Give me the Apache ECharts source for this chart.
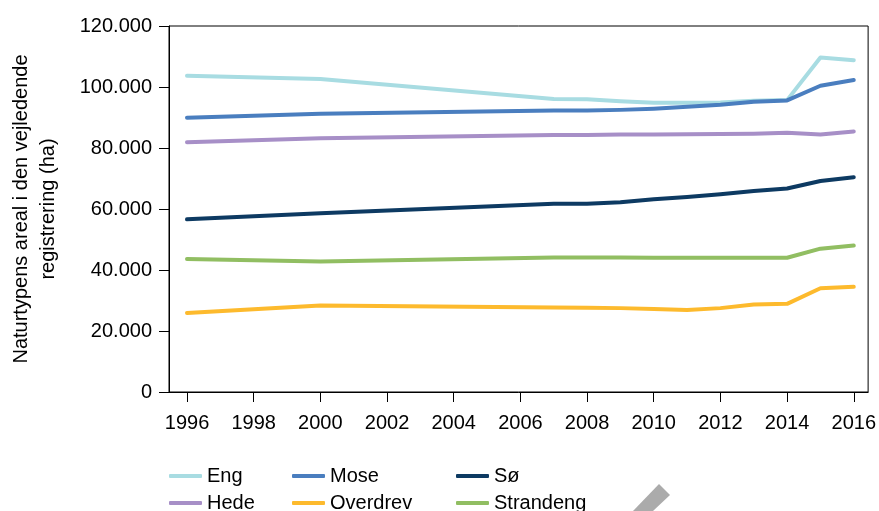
<!DOCTYPE html>
<html>
<head>
<meta charset="utf-8">
<script src="https://cdn.jsdelivr.net/npm/echarts@6/dist/echarts.min.js"></script>
<style>
  html, body { margin: 0; padding: 0; background: #fff; }
  #chart { width: 879px; height: 511px; }
</style>
</head>
<body>
<div id="chart"></div>
<script>
const years = [1996, 2000, 2007, 2008, 2009, 2010, 2011, 2012, 2013, 2014, 2015, 2016];
const tickYears = [1996, 1998, 2000, 2002, 2004, 2006, 2008, 2010, 2012, 2014, 2016];

const eng = [103700, 102600, 96100, 96000, 95300, 94800, 94800, 94900, 95500, 95700, 109700, 108800];
const mose = [89900, 91200, 92300, 92300, 92500, 92900, 93500, 94200, 95200, 95600, 100400, 102300];
const hede = [81900, 83200, 84300, 84300, 84400, 84400, 84500, 84600, 84700, 85000, 84400, 85400];
const so = [56600, 58600, 61700, 61700, 62200, 63200, 63900, 64800, 65900, 66700, 69200, 70400];
const overdrev = [25900, 28400, 27700, 27600, 27500, 27200, 26900, 27500, 28700, 28900, 34000, 34500];
const strandeng = [43600, 42800, 44100, 44100, 44100, 44000, 44000, 44000, 44000, 44000, 47000, 48000];

const font = 'Liberation Sans, Arial, sans-serif';

const chart = echarts.init(document.getElementById('chart'));

const mkSeries = (name, values, color) => ({
  name: name,
  type: 'line',
  symbol: 'none',
  data: values.map((v, i) => [years[i], v]),
  lineStyle: { width: 4, color: color, cap: 'round', join: 'round' },
  itemStyle: { color: color }
});

// one legend per entry so the 3x2 grid stays fixed
const mkLegend = (name, left, top) => ({
  data: [name],
  left: left,
  top: top,
  icon: 'roundRect',
  itemWidth: 33,
  itemHeight: 4,
  itemTextGap: 6,
  textStyle: { fontFamily: font, fontSize: 20, color: '#000' }
});

chart.setOption({
  animation: false,
  grid: {
    left: 168, right: 8, top: 26, bottom: 119,
    show: true, borderColor: '#000', borderWidth: 1
  },
  xAxis: {
    type: 'value',
    min: 1995.46,
    max: 2016.43,
    axisLine: { lineStyle: { color: '#000', width: 1 } },
    axisTick: { show: true, length: 10, customValues: tickYears, lineStyle: { color: '#000' } },
    axisLabel: {
      customValues: tickYears,
      margin: 21,
      fontFamily: font, fontSize: 20, color: '#000',
      formatter: v => String(v)
    },
    splitLine: { show: false }
  },
  yAxis: {
    type: 'value',
    min: 0, max: 120000, interval: 20000,
    name: 'Naturtypens areal i den vejledende\nregistrering (ha)',
    nameLocation: 'middle',
    nameRotate: 90,
    nameGap: 107,
    nameTextStyle: { fontFamily: font, fontSize: 20, color: '#000', lineHeight: 27 },
    axisLine: { show: true, lineStyle: { color: '#000', width: 1 } },
    axisTick: { show: true, length: 10, lineStyle: { color: '#000' } },
    axisLabel: {
      margin: 17,
      fontFamily: font, fontSize: 20, color: '#000',
      formatter: v => v === 0 ? '0' : String(v).replace(/\B(?=(\d{3})+(?!\d))/g, '.')
    },
    splitLine: { show: false }
  },
  legend: [
    mkLegend('Eng', 164, 461),
    mkLegend('Hede', 164, 488),
    mkLegend('Mose', 287, 461),
    mkLegend('Overdrev', 287, 488),
    mkLegend('Sø', 451, 461),
    mkLegend('Strandeng', 451, 488)
  ],
  graphic: [{
    type: 'polygon',
    shape: { points: [[659, 484], [670, 495], [653, 511], [633, 511]] },
    style: { fill: '#ababab' },
    z: 100
  }],
  series: [
    mkSeries('Eng', eng, '#a8dce2'),
    mkSeries('Mose', mose, '#4a7ebf'),
    mkSeries('Sø', so, '#0d3a62'),
    mkSeries('Hede', hede, '#a78fc7'),
    mkSeries('Overdrev', overdrev, '#fdba2d'),
    mkSeries('Strandeng', strandeng, '#91be62')
  ]
});
</script>
</body>
</html>
